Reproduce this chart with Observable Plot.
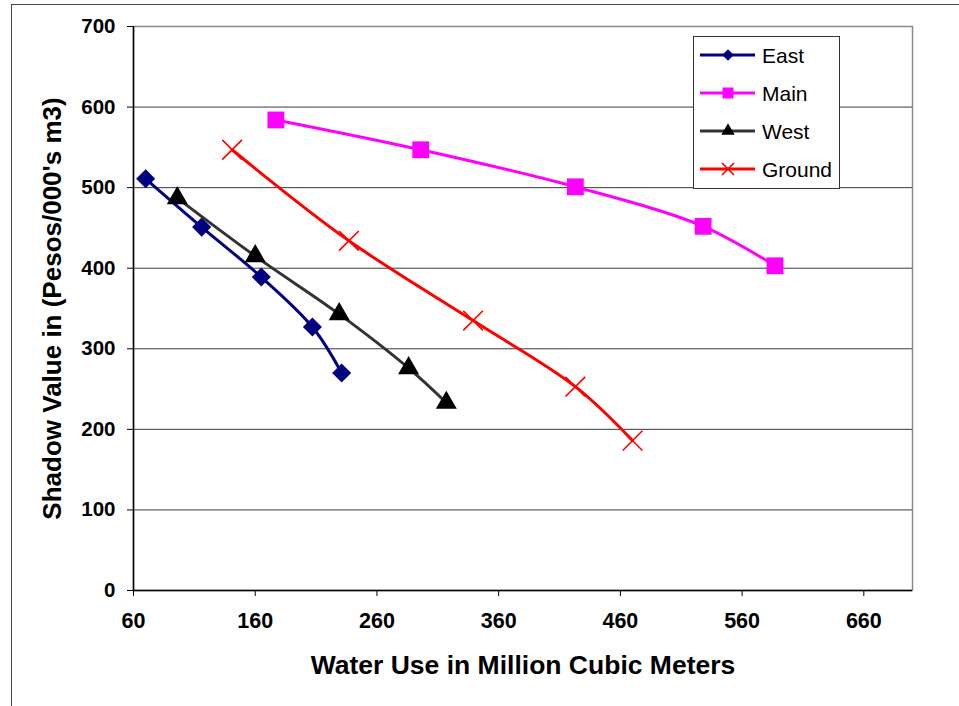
<!DOCTYPE html>
<html><head><meta charset="utf-8">
<script src="https://cdn.jsdelivr.net/npm/d3@7"></script>
<script src="https://cdn.jsdelivr.net/npm/@observablehq/plot@0.6"></script>
<style>
html,body{margin:0;padding:0;background:#fff;overflow:hidden;}
#wrap{position:relative;width:959px;height:706px;overflow:hidden;font-family:"Liberation Sans",Arial,sans-serif;}
#outer{position:absolute;left:11px;top:4px;width:1000px;height:800px;border:1px solid #444;box-sizing:border-box;}
#chart{position:absolute;left:0;top:0;}
#legend{position:absolute;left:693px;top:36px;}
#chart g[aria-label="x-axis tick label"], #chart g[aria-label="x-axis tick label"] text{font-size:21.5px !important;font-weight:bold !important;}
#chart g[aria-label="y-axis tick label"], #chart g[aria-label="y-axis tick label"] text{font-size:20.5px !important;font-weight:bold !important;}
</style></head>
<body><div id="wrap"><div id="outer"></div><div id="chart"></div><svg id="legend"></svg></div>
<script>
// ---- data ----
const seriesNames = ["East", "Main", "West", "Ground"];
const eastX = [70, 116, 165, 207, 231];
const eastY = [511, 451, 389, 327, 270];
const mainX = [177, 296, 423, 528, 587];
const mainY = [584, 547, 501, 452, 403];
const westX = [96, 160, 229, 286, 317];
const westY = [487, 415, 343, 276, 233];
const groundX = [141, 237, 339, 423, 470];
const groundY = [547, 434, 335, 253, 186];
const xTicks = [60, 160, 260, 360, 460, 560, 660];
const yTicks = [0, 100, 200, 300, 400, 500, 600, 700];
const xDomain = [60, 700];
const yDomain = [0, 700];
const xTitle = "Water Use in Million Cubic Meters";
const yTitle = "Shadow Value in (Pesos/000's m3)";

// ---- styles ----
const lineColors = ["#000080", "#FF00FF", "#333333", "#FF0000"];
const markerColors = ["#000080", "#FF00FF", "#000000", "#FF0000"];
const markerSymbols = ["diamond2", "square", "triangle", "times"];
const markerR = [8.6, 9.5, 7.8, 9];
const legendSymbols = [d3.symbolDiamond2, d3.symbolSquare, d3.symbolTriangle, d3.symbolTimes];
const legendSizes = [85, 121, 78, 96];

const xs = [eastX, mainX, westX, groundX];
const ys = [eastY, mainY, westY, groundY];
const series = seriesNames.map((name, i) => xs[i].map((x, j) => ({name, x, y: ys[i][j]})));

const font = "'Liberation Sans', Arial, sans-serif";

const marks = [
  Plot.ruleY(yTicks.filter(d => d > yDomain[0]), {stroke: "#3a3a3a", strokeWidth: 1}),
  Plot.frame({stroke: "#888", strokeWidth: 1.5}),
  Plot.ruleX([xDomain[0]], {stroke: "#000", strokeWidth: 1.5}),
  Plot.ruleY([yDomain[0]], {stroke: "#000", strokeWidth: 1.5}),
  Plot.axisX({ticks: xTicks, tickSize: 6, tickPadding: 16, label: null, fontSize: 21.5, fontWeight: "bold", tickFormat: d => String(d)}),
  Plot.axisY({ticks: yTicks, tickSize: 6, tickPadding: 12, label: null, fontSize: 20.5, fontWeight: "bold", tickFormat: d => String(d)})
];
series.forEach((s, i) => {
  marks.push(Plot.line(s, {x: "x", y: "y", stroke: lineColors[i], strokeWidth: 3, curve: "catmull-rom", strokeLinejoin: "round"}));
  if (markerSymbols[i] === "times") {
    marks.push(Plot.dot(s, {x: "x", y: "y", symbol: "times", r: markerR[i], stroke: markerColors[i], strokeWidth: 1.6, fill: "none"}));
  } else {
    marks.push(Plot.dot(s, {x: "x", y: "y", symbol: markerSymbols[i], r: markerR[i], fill: markerColors[i], stroke: "none"}));
  }
});
marks.push(Plot.text([xTitle], {text: d => d, frameAnchor: "bottom", textAnchor: "middle", dy: 83, fontSize: 26.5, fontWeight: "bold", fill: "#000"}));
marks.push(Plot.text([yTitle], {text: d => d, frameAnchor: "left", textAnchor: "middle", dx: -81, rotate: -90, fontSize: 26, fontWeight: "bold", fill: "#000"}));

const chart = Plot.plot({
  width: 959, height: 706,
  marginLeft: 133, marginRight: 47, marginTop: 26, marginBottom: 116,
  x: {domain: xDomain},
  y: {domain: yDomain},
  style: {fontFamily: font, fontSize: "21px", fontWeight: "bold", color: "#000", background: "transparent", overflow: "visible"},
  marks
});
document.getElementById("chart").appendChild(chart);

// ---- legend ----
const lg = d3.select("#legend").attr("width", 148).attr("height", 154);
lg.append("rect").attr("x", 0.5).attr("y", 0.5).attr("width", 146).attr("height", 152)
  .attr("fill", "#fff").attr("stroke", "#333").attr("stroke-width", 1);
seriesNames.forEach((name, i) => {
  const g = lg.append("g").attr("transform", `translate(0,${19 + i * 38})`);
  g.append("line").attr("x1", 7).attr("x2", 62).attr("y1", 0).attr("y2", 0)
    .attr("stroke", lineColors[i]).attr("stroke-width", 3);
  const p = g.append("path").attr("transform", "translate(35,0)")
    .attr("d", d3.symbol(legendSymbols[i], legendSizes[i])());
  if (markerSymbols[i] === "times") p.attr("fill", "none").attr("stroke", markerColors[i]).attr("stroke-width", 1.6);
  else p.attr("fill", markerColors[i]);
  g.append("text").attr("x", 69).attr("dy", "0.36em").text(name)
    .attr("font-family", font).attr("font-size", 21).attr("fill", "#000");
});
</script>
</body></html>
